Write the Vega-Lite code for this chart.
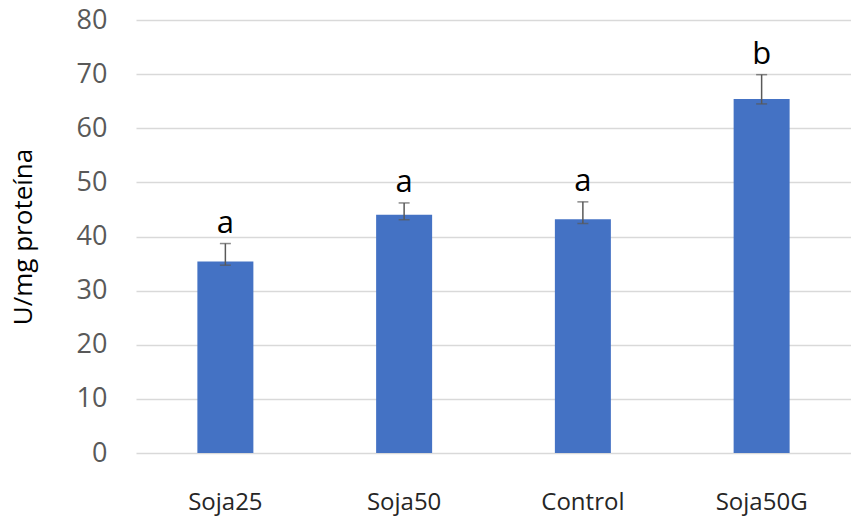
{
  "$schema": "https://vega.github.io/schema/vega-lite/v6.json",
  "autosize": "none",
  "width": 715,
  "height": 433,
  "padding": {"left": 136, "top": 20, "right": 0, "bottom": 69},
  "background": "white",
  "config": {
    "view": {"stroke": null},
    "font": "Open Sans"
  },
  "data": {
    "values": [
      {"grupo": "Soja25", "valor": 35.4, "lo": 34.7, "hi": 38.7, "letra": "a"},
      {"grupo": "Soja50", "valor": 44.0, "lo": 43.1, "hi": 46.2, "letra": "a"},
      {"grupo": "Control", "valor": 43.2, "lo": 42.4, "hi": 46.4, "letra": "a"},
      {"grupo": "Soja50G", "valor": 65.4, "lo": 64.5, "hi": 69.9, "letra": "b"}
    ]
  },
  "encoding": {
    "x": {
      "field": "grupo",
      "type": "nominal",
      "sort": null,
      "scale": {"paddingInner": 0.6, "paddingOuter": 0.3},
      "axis": {
        "title": null,
        "labelAngle": 0,
        "labelFont": "Open Sans",
        "labelFontSize": 24,
        "labelColor": "#262626",
        "labelPadding": 37,
        "ticks": false,
        "domain": false,
        "grid": false
      }
    }
  },
  "layer": [
    {
      "mark": {"type": "bar", "color": "#4472C4", "width": 56},
      "encoding": {
        "y": {
          "field": "valor",
          "type": "quantitative",
          "scale": {"domain": [0, 80], "nice": false},
          "axis": {
            "values": [0, 10, 20, 30, 40, 50, 60, 70, 80],
            "title": "U/mg proteína",
            "titleFont": "Open Sans",
            "titleFontSize": 26,
            "titleFontWeight": "normal",
            "titleColor": "#000000",
            "titlePadding": 40,
            "labelFont": "Open Sans",
            "labelFontSize": 27,
            "labelColor": "#595959",
            "labelPadding": 29,
            "ticks": false,
            "domain": false,
            "grid": true,
            "gridColor": "#D9D9D9",
            "gridWidth": 1.3
          }
        }
      }
    },
    {
      "mark": {"type": "rule", "color": "#595959", "strokeWidth": 1.5},
      "encoding": {
        "y": {"field": "lo", "type": "quantitative"},
        "y2": {"field": "hi"}
      }
    },
    {
      "mark": {"type": "tick", "color": "#595959", "thickness": 1.5, "size": 11},
      "encoding": {
        "y": {"field": "hi", "type": "quantitative"}
      }
    },
    {
      "mark": {"type": "tick", "color": "#595959", "thickness": 1.5, "size": 11},
      "encoding": {
        "y": {"field": "lo", "type": "quantitative"}
      }
    },
    {
      "mark": {"type": "text", "font": "Open Sans", "fontSize": 31, "color": "#000000", "baseline": "alphabetic", "dy": -11},
      "encoding": {
        "y": {"field": "hi", "type": "quantitative"},
        "text": {"field": "letra"}
      }
    }
  ]
}
